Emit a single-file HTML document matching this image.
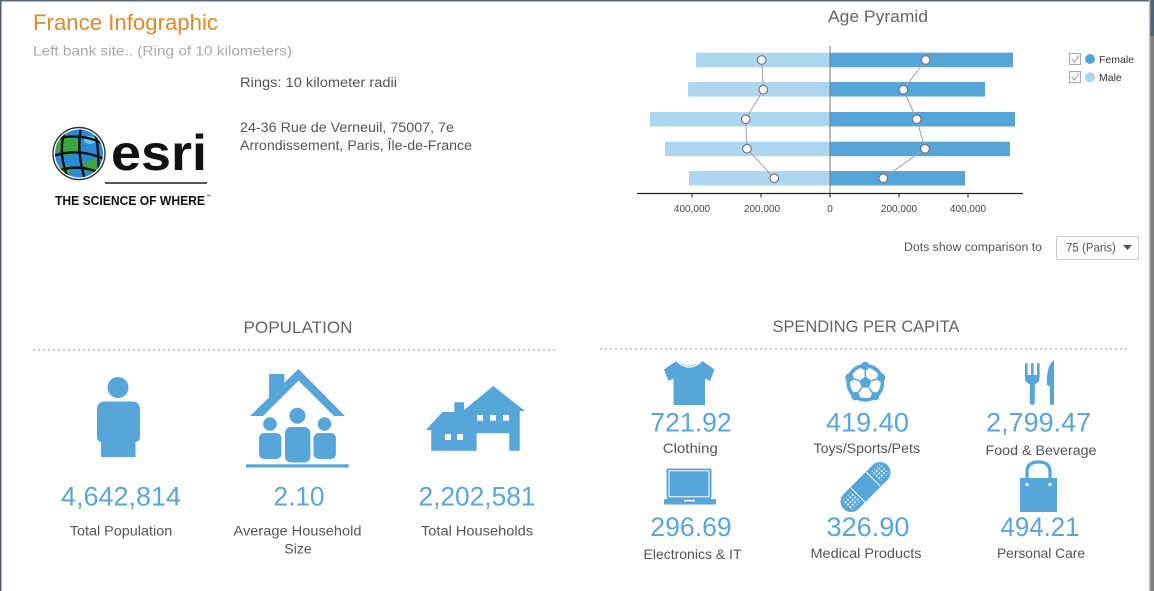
<!DOCTYPE html>
<html>
<head>
<meta charset="utf-8">
<style>
html,body{margin:0;padding:0;background:#fff;}
body{width:1154px;height:591px;overflow:hidden;position:relative;}
svg{position:absolute;left:0;top:0;}
</style>
</head>
<body>
<svg width="1154" height="591" viewBox="0 0 1154 591" font-family="'Liberation Sans', sans-serif">
<defs>
  <clipPath id="globe"><circle cx="79" cy="153.5" r="24"/></clipPath>
  <pattern id="dots" width="3.4" height="3.4" patternUnits="userSpaceOnUse"><rect width="1.7" height="1.7" fill="#fff"/></pattern>
</defs>

<!-- frame borders -->
<rect x="0" y="0" width="1154" height="591" fill="#fff"/>
<rect x="0" y="0" width="1.5" height="591" fill="#4f5b68"/>
<rect x="0" y="0" width="1150" height="1.5" fill="#5d6875"/>
<rect x="1148.8" y="0" width="1.5" height="591" fill="#c4c4c4"/>
<rect x="1150.3" y="0" width="3.7" height="591" fill="#7c7c7c"/>
<rect x="1150.3" y="0" width="3.7" height="36" fill="#516476"/>

<!-- header -->
<text x="33" y="30" font-size="22" fill="#e08a26" textLength="185" lengthAdjust="spacingAndGlyphs">France Infographic</text>
<text x="33" y="55.5" font-size="14" fill="#a9a9a9" textLength="259" lengthAdjust="spacingAndGlyphs">Left bank site.. (Ring of 10 kilometers)</text>
<text x="240" y="87" font-size="13.5" fill="#555" textLength="157" lengthAdjust="spacingAndGlyphs">Rings: 10 kilometer radii</text>
<text x="240" y="132" font-size="13.5" fill="#555" textLength="214" lengthAdjust="spacingAndGlyphs">24-36 Rue de Verneuil, 75007, 7e</text>
<text x="240" y="150" font-size="13.5" fill="#555" textLength="232" lengthAdjust="spacingAndGlyphs">Arrondissement, Paris, Île-de-France</text>

<!-- esri logo -->
<circle cx="79" cy="153.5" r="26" fill="none" stroke="#333" stroke-width="1.4"/>
<circle cx="79" cy="153.5" r="24" fill="#2a8ad6"/>
<g clip-path="url(#globe)">
  <ellipse cx="68" cy="146" rx="13" ry="9" fill="#3ea63e"/>
  <ellipse cx="92" cy="166" rx="9" ry="6" fill="#3ea63e"/>
  <ellipse cx="63" cy="170" rx="8" ry="5" fill="#4cae3c"/>
  <ellipse cx="90" cy="140" rx="6" ry="4" fill="#6cc0ee"/>
  <g fill="none" stroke="#111" stroke-width="2.4">
    <path d="M66 127 Q56 154 70 182"/>
    <path d="M81 127 Q76 154 86 182"/>
    <path d="M95 131 Q100 154 98 178"/>
    <path d="M53 140 Q80 131 106 145"/>
    <path d="M53 156 Q80 147 106 160"/>
    <path d="M57 171 Q80 163 102 174"/>
  </g>
</g>
<text x="111" y="170" font-size="50" font-weight="bold" fill="#111" textLength="96" lengthAdjust="spacingAndGlyphs">esri</text>
<rect x="105" y="182" width="102" height="2" fill="#555"/>
<text x="55" y="205" font-size="12.5" font-weight="bold" fill="#111" textLength="150" lengthAdjust="spacingAndGlyphs">THE SCIENCE OF WHERE</text>
<text x="206" y="198" font-size="5" fill="#111">™</text>

<!-- Age Pyramid -->
<text x="878" y="22" font-size="16.5" fill="#666" text-anchor="middle" textLength="100" lengthAdjust="spacingAndGlyphs">Age Pyramid</text>
<g fill="#aed6f1">
  <rect x="696" y="52.7" width="134" height="14.5"/>
  <rect x="688" y="82" width="142" height="14.5"/>
  <rect x="650" y="112" width="180" height="14.5"/>
  <rect x="665" y="141.7" width="165" height="14.5"/>
  <rect x="689" y="171" width="141" height="14.5"/>
</g>
<g fill="#55a5d9">
  <rect x="830" y="52.7" width="183" height="14.5"/>
  <rect x="830" y="82" width="155" height="14.5"/>
  <rect x="830" y="112" width="185" height="14.5"/>
  <rect x="830" y="141.7" width="180" height="14.5"/>
  <rect x="830" y="171" width="135" height="14.5"/>
</g>
<line x1="830" y1="46" x2="830" y2="193.5" stroke="#777" stroke-width="1"/>
<line x1="637" y1="193.5" x2="1023" y2="193.5" stroke="#222" stroke-width="1.2"/>
<g stroke="#222" stroke-width="1">
  <line x1="692" y1="193.5" x2="692" y2="197.5"/>
  <line x1="761" y1="193.5" x2="761" y2="197.5"/>
  <line x1="830" y1="193.5" x2="830" y2="197.5"/>
  <line x1="899" y1="193.5" x2="899" y2="197.5"/>
  <line x1="968" y1="193.5" x2="968" y2="197.5"/>
</g>
<g font-size="10" fill="#444" text-anchor="middle">
  <text x="692" y="212">400,000</text>
  <text x="762" y="212">200,000</text>
  <text x="830" y="212">0</text>
  <text x="899" y="212">200,000</text>
  <text x="968" y="212">400,000</text>
</g>
<polyline points="761.7,60 763.3,89.7 745.7,119.3 747,148.7 774.3,178.3" fill="none" stroke="#a0a0a0" stroke-width="1"/>
<polyline points="925.7,60 903.3,89.7 916.7,119.3 925,148.7 883.3,178.3" fill="none" stroke="#a0a0a0" stroke-width="1"/>
<g fill="#fff" stroke="#777" stroke-width="1.2">
  <circle cx="761.7" cy="60" r="4.3"/>
  <circle cx="763.3" cy="89.7" r="4.3"/>
  <circle cx="745.7" cy="119.3" r="4.3"/>
  <circle cx="747" cy="148.7" r="4.3"/>
  <circle cx="774.3" cy="178.3" r="4.3"/>
  <circle cx="925.7" cy="60" r="4.3"/>
  <circle cx="903.3" cy="89.7" r="4.3"/>
  <circle cx="916.7" cy="119.3" r="4.3"/>
  <circle cx="925" cy="148.7" r="4.3"/>
  <circle cx="883.3" cy="178.3" r="4.3"/>
</g>

<!-- legend -->
<rect x="1069.5" y="53.5" width="11" height="11" fill="#fff" stroke="#aaa"/>
<path d="M1071.5 59 L1074.5 62 L1079 55.5" fill="none" stroke="#999" stroke-width="1"/>
<rect x="1069.5" y="71.5" width="11" height="11" fill="#fff" stroke="#aaa"/>
<path d="M1071.5 77 L1074.5 80 L1079 73.5" fill="none" stroke="#999" stroke-width="1"/>
<circle cx="1090" cy="59" r="5" fill="#55a5d9"/>
<circle cx="1090" cy="77.3" r="5" fill="#aed6f1"/>
<text x="1099" y="63" font-size="10.5" fill="#333">Female</text>
<text x="1099" y="81" font-size="10.5" fill="#333">Male</text>

<!-- dropdown -->
<text x="904" y="251" font-size="11.5" fill="#555" textLength="138" lengthAdjust="spacingAndGlyphs">Dots show comparison to</text>
<rect x="1056.5" y="236.5" width="82" height="23" fill="#fff" stroke="#ccc"/>
<text x="1066" y="251.5" font-size="11.5" fill="#555">75 (Paris)</text>
<polygon points="1123,245 1132,245 1127.5,250" fill="#555"/>

<!-- POPULATION -->
<text x="298" y="333" font-size="17" fill="#666" text-anchor="middle" textLength="109" lengthAdjust="spacingAndGlyphs">POPULATION</text>
<line x1="33" y1="350" x2="558" y2="350" stroke="#aaa" stroke-width="1.2" stroke-dasharray="2,3"/>

<g fill="#56a6da">
  <!-- person -->
  <circle cx="118" cy="387.5" r="10.5"/>
  <path d="M104 401.5 Q97 402 97 410 L97 437 Q97 441 101 442 L101 457 L135.5 457 L135.5 442 Q140 441 140 437 L140 410 Q140 402 133 401.5 Z"/>
  <!-- family house -->
  <polygon points="298.5,369 345,416 334,416 298.5,380.6 263,416 250,416"/>
  <polygon points="269,374 284.4,374 284.4,384 269,399.5"/>
  <rect x="246" y="464.3" width="102.7" height="3.2"/>
  <circle cx="270" cy="424" r="6.8"/>
  <rect x="259" y="433" width="22.4" height="26" rx="5"/>
  <circle cx="297.4" cy="415.7" r="8"/>
  <rect x="285" y="427" width="25.4" height="35.5" rx="6"/>
  <circle cx="324.5" cy="424" r="6.8"/>
  <rect x="313.5" y="433" width="22.4" height="26" rx="5"/>
  <!-- households -->
  <polygon points="426,430 442.4,412 454.3,412 454.3,402.3 464,402.3 464,410 493.3,386 525,411 519.7,411 519.7,450.7 509.3,450.7 509.3,433.3 476.6,433.3 476.6,450.7 431.2,450.7 431.2,430"/>
</g>
<g fill="#fff">
  <rect x="477" y="415" width="6" height="5.7"/>
  <rect x="490" y="415" width="6" height="5.7"/>
  <rect x="503" y="415" width="6" height="5.7"/>
  <rect x="445" y="434" width="6" height="6"/>
  <rect x="457" y="434" width="6" height="6"/>
</g>

<g font-size="27" fill="#5aa5db" text-anchor="middle">
  <text x="121" y="505.7" textLength="120" lengthAdjust="spacingAndGlyphs">4,642,814</text>
  <text x="299" y="505.7" textLength="51" lengthAdjust="spacingAndGlyphs">2.10</text>
  <text x="477" y="505.7" textLength="117" lengthAdjust="spacingAndGlyphs">2,202,581</text>
</g>
<g font-size="14" fill="#555" text-anchor="middle">
  <text x="121" y="535.5" textLength="102.5" lengthAdjust="spacingAndGlyphs">Total Population</text>
  <text x="297.5" y="535.5" textLength="128" lengthAdjust="spacingAndGlyphs">Average Household</text>
  <text x="298" y="553.5">Size</text>
  <text x="477" y="535.5" textLength="112" lengthAdjust="spacingAndGlyphs">Total Households</text>
</g>

<!-- SPENDING PER CAPITA -->
<text x="866" y="332" font-size="17" fill="#666" text-anchor="middle" textLength="187" lengthAdjust="spacingAndGlyphs">SPENDING PER CAPITA</text>
<line x1="600" y1="349" x2="1128" y2="349" stroke="#aaa" stroke-width="1.2" stroke-dasharray="2,3"/>

<g fill="#56a6da">
  <!-- shirt -->
  <path d="M677 360.5 L664 369.5 L668.5 381 L673.5 378.5 L673.5 405 L705 405 L705 378.5 L710 381 L714.5 369.5 L701.5 360.5 Q689.3 371 677 360.5 Z"/>
  <!-- soccer -->
  <circle cx="865.3" cy="382.7" r="19"/>
  <!-- fork -->
  <rect x="1025" y="363" width="2.6" height="14" rx="1"/>
  <rect x="1031" y="363" width="2.6" height="14" rx="1"/>
  <rect x="1037" y="363" width="2.6" height="14" rx="1"/>
  <path d="M1025 375 L1039.6 375 L1039.6 378 Q1039.6 383 1035 384 L1029.6 384 Q1025 383 1025 378 Z"/>
  <rect x="1029.8" y="380" width="5" height="25" rx="2.5"/>
  <!-- knife -->
  <path d="M1054 360 Q1046 366 1047 385 L1050 386.5 L1050 403 Q1050 405 1052 405 Q1054 405 1054 403 Z"/>
  <!-- laptop -->
  <rect x="666.5" y="468.5" width="45" height="30.5" rx="2"/>
  <rect x="664" y="499" width="52" height="5.5" rx="1"/>
  <!-- bag -->
  <rect x="1020" y="478" width="37" height="34"/>
</g>
<path d="M676.5 361 Q689.3 373 702 361" fill="none" stroke="#fff" stroke-width="1.3"/>
<circle cx="865.3" cy="382.7" r="15.3" fill="#fff"/>
<g fill="#56a6da">
  <polygon points="865.3,376.4 871.3,380.8 869,387.8 861.6,387.8 859.3,380.8"/>
  <circle cx="865.3" cy="366" r="4.2"/>
  <circle cx="881.2" cy="377.6" r="4.2"/>
  <circle cx="875.1" cy="396.2" r="4.2"/>
  <circle cx="855.5" cy="396.2" r="4.2"/>
  <circle cx="849.4" cy="377.6" r="4.2"/>
</g>
<g stroke="#56a6da" stroke-width="1.6">
  <line x1="865.3" y1="376.4" x2="865.3" y2="368"/>
  <line x1="871.3" y1="380.8" x2="879" y2="378.3"/>
  <line x1="869" y1="387.8" x2="873.8" y2="394.4"/>
  <line x1="861.6" y1="387.8" x2="856.8" y2="394.4"/>
  <line x1="859.3" y1="380.8" x2="851.6" y2="378.3"/>
</g>
<rect x="669" y="470.8" width="40" height="26" fill="none" stroke="#fff" stroke-width="1"/>
<rect x="684" y="499.8" width="11" height="1.6" fill="#fff"/>
<path d="M1027 481 L1027 472 Q1027 462 1038.5 462 Q1050 462 1050 472 L1050 481" fill="none" stroke="#56a6da" stroke-width="3.2"/>
<circle cx="1027" cy="484.5" r="1.6" fill="#fff"/>
<circle cx="1050" cy="484.5" r="1.6" fill="#fff"/>
<!-- bandage -->
<g transform="rotate(-45 865.5 487)">
  <rect x="834.5" y="476.5" width="62" height="21" rx="10.5" fill="#56a6da"/>
  <rect x="839" y="480.5" width="13" height="13" fill="url(#dots)"/>
  <rect x="879" y="480.5" width="13" height="13" fill="url(#dots)"/>
  <line x1="854.5" y1="477" x2="854.5" y2="497" stroke="#fff" stroke-width="1"/>
  <line x1="876.5" y1="477" x2="876.5" y2="497" stroke="#fff" stroke-width="1"/>
</g>

<g font-size="26.5" fill="#5aa5db" text-anchor="middle">
  <text x="691" y="431.7" textLength="81.5" lengthAdjust="spacingAndGlyphs">721.92</text>
  <text x="867.5" y="431.7" textLength="83" lengthAdjust="spacingAndGlyphs">419.40</text>
  <text x="1038.6" y="431.7" textLength="105" lengthAdjust="spacingAndGlyphs">2,799.47</text>
  <text x="691" y="536" textLength="81.5" lengthAdjust="spacingAndGlyphs">296.69</text>
  <text x="868" y="536" textLength="83" lengthAdjust="spacingAndGlyphs">326.90</text>
  <text x="1040" y="536" textLength="79" lengthAdjust="spacingAndGlyphs">494.21</text>
</g>
<g font-size="14" fill="#555" text-anchor="middle">
  <text x="690.3" y="453" textLength="55" lengthAdjust="spacingAndGlyphs">Clothing</text>
  <text x="866.8" y="453" textLength="106.5" lengthAdjust="spacingAndGlyphs">Toys/Sports/Pets</text>
  <text x="1041" y="455" textLength="111" lengthAdjust="spacingAndGlyphs">Food &amp; Beverage</text>
  <text x="692.5" y="559" textLength="98" lengthAdjust="spacingAndGlyphs">Electronics &amp; IT</text>
  <text x="866" y="558" textLength="111" lengthAdjust="spacingAndGlyphs">Medical Products</text>
  <text x="1041" y="558" textLength="88" lengthAdjust="spacingAndGlyphs">Personal Care</text>
</g>
</svg>
</body>
</html>
